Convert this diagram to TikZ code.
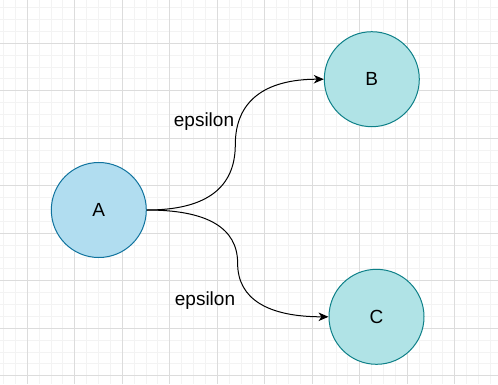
\documentclass[tikz,border=0pt]{standalone}
\usepackage{fontspec}
\setmainfont{Liberation Sans}
\usetikzlibrary{calc,arrows.meta}
\definecolor{gridminor}{HTML}{F3F3F3}
\definecolor{gridmajor}{HTML}{DCDCDC}
\definecolor{afill}{HTML}{B1DDF0}
\definecolor{astroke}{HTML}{10739E}
\definecolor{bfill}{HTML}{B0E3E6}
\definecolor{bstroke}{HTML}{0E8088}
\tikzset{
  stateA/.style={circle, minimum size=95pt, inner sep=0pt, line width=1pt, draw=astroke, fill=afill, font=\fontsize{19}{22}\selectfont},
  stateB/.style={circle, minimum size=95pt, inner sep=0pt, line width=1pt, draw=bstroke, fill=bfill, font=\fontsize{19}{22}\selectfont},
  edgelbl/.style={anchor=base, inner sep=0pt, font=\fontsize{19}{22}\selectfont},
  trans/.style={line width=1pt, -{Stealth[length=10pt,width=8.5pt,inset=3pt]}}
}
\begin{document}
\begin{tikzpicture}[x=1pt,y=-1pt]
\useasboundingbox (0,0) rectangle (498,384);
\fill[white] (0,0) rectangle (498,384);
% minor grid
\foreach \i in {0,...,41} {
  \draw[gridminor, line width=1pt] ({3.55+11.875*\i},0) -- ({3.55+11.875*\i},384);
}
\foreach \i in {0,...,31} {
  \draw[gridminor, line width=1pt] (0,{7.675+11.875*\i}) -- (498,{7.675+11.875*\i});
}
% major grid
\foreach \j in {0,...,9} {
  \draw[gridmajor, line width=1pt] ({27.3+47.5*\j},0) -- ({27.3+47.5*\j},384);
}
\foreach \j in {0,...,7} {
  \draw[gridmajor, line width=1pt] (0,{43.3+47.5*\j}) -- (498,{43.3+47.5*\j});
}
% states
\node[stateA] (A) at (98.8,210) {A};
\node[stateB] (B) at (371.8,79.2) {B};
\node[stateB] (C) at (376.5,316.8) {C};
% helper points
\coordinate (mb) at ($(A.east)!0.5!(B.west)$);
\coordinate (qb1) at (mb |- A.east);
\coordinate (qb2) at (mb |- B.west);
\coordinate (mc) at ($(A.east)!0.5!(C.west)$);
\coordinate (qc1) at (mc |- A.east);
\coordinate (qc2) at (mc |- C.west);
% transitions
\draw[trans] (A.east) .. controls ($(A.east)!2/3!(qb1)$) and ($(mb)!2/3!(qb1)$) .. (mb)
  .. controls ($(mb)!2/3!(qb2)$) and ($(B.west)!2/3!(qb2)$) .. (B.west);
\draw[trans] (A.east) .. controls ($(A.east)!2/3!(qc1)$) and ($(mc)!2/3!(qc1)$) .. (mc)
  .. controls ($(mc)!2/3!(qc2)$) and ($(C.west)!2/3!(qc2)$) .. (C.west);
% labels
\node[edgelbl] (l1) at (204,126.7) {epsilon};
\node[edgelbl] (l2) at (205,305.5) {epsilon};
\end{tikzpicture}
\end{document}
